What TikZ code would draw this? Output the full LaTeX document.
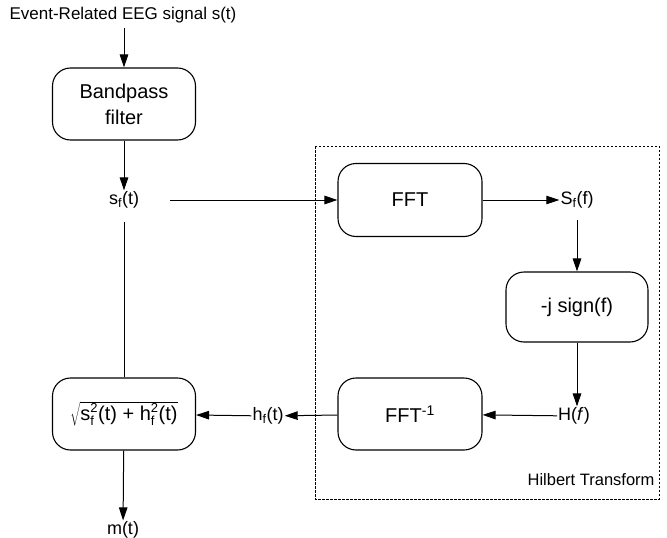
\documentclass[tikz,border=0pt]{standalone}
\usepackage{fontspec}
\setmainfont{Liberation Sans}
\usetikzlibrary{arrows.meta}
\begin{document}
\begin{tikzpicture}[x=1pt,y=-1pt,
  blk/.style={draw, line width=1.1pt, rounded corners=18pt, minimum width=143pt, minimum height=72pt, align=center, font=\fontsize{20}{26}\selectfont, inner sep=0pt},
  lbl/.style={font=\fontsize{18}{21}\selectfont, inner sep=1pt},
  arr/.style={-{Triangle[length=13pt,width=8.5pt]}, line width=1pt},
  ln/.style={line width=1pt}]
\useasboundingbox (0,0) rectangle (667,538);
% Hilbert frame
\draw[line width=1pt, dash pattern=on 2.5pt off 1.5pt] (315,146) rectangle (659,499);
\node[font=\fontsize{16.5}{19}\selectfont, anchor=east] (hil) at (658,480) {Hilbert Transform};
% nodes
\node[font=\fontsize{17}{20}\selectfont] (title) at (123,15) {Event-Related EEG signal s(t)};
\node[blk] (bp) at (124,104) {Bandpass\\filter};
\node[lbl] (sf) at (124,200) {s\textsubscript{f}(t)};
\node[blk, minimum width=144pt, minimum height=73pt] (fft) at (410,200) {FFT};
\node[lbl] (Sf) at (577,200) {S\textsubscript{f}(f)};
\node[blk, minimum width=142pt, minimum height=70pt] (sign) at (577,307) {-j sign(f)};
\node[lbl] (H) at (574,416) {H(\textit{f})};
\node[blk, minimum width=144pt] (ifft) at (410,414) {FFT\textsuperscript{-1}};
\node[lbl] (hf) at (268,416) {h\textsubscript{f}(t)};
\node[blk] (sq) at (124,414) {$\sqrt{\mbox{s$^{\mbox{\fontsize{13}{13}\selectfont 2}}_{\mbox{\fontsize{13}{13}\selectfont f}}$(t) + h$^{\mbox{\fontsize{13}{13}\selectfont 2}}_{\mbox{\fontsize{13}{13}\selectfont f}}$(t)}}$};
\node[lbl] (m) at (123,530) {m(t)};
% connectors
\draw[arr] (title.south -| bp.north) ++(0,2) -- (bp.north);
\draw[arr] (bp) -- (sf);
\draw[arr] (sf.east) ++(30,0) -- (fft.west);
\draw[ln] (sf.south) ++(0,12) -- (sq.north);
\draw[arr] (fft) -- (Sf);
\draw[arr] (Sf.south) ++(0,10) -- (sign.north);
\draw[arr] (sign.south) -- (sign.south |- H.north);
\draw[arr] (H) -- (ifft);
\draw[arr] (ifft) -- (hf);
\draw[arr] (hf) -- (sq);
\draw[arr] (sq) -- (m);
\end{tikzpicture}
\end{document}
